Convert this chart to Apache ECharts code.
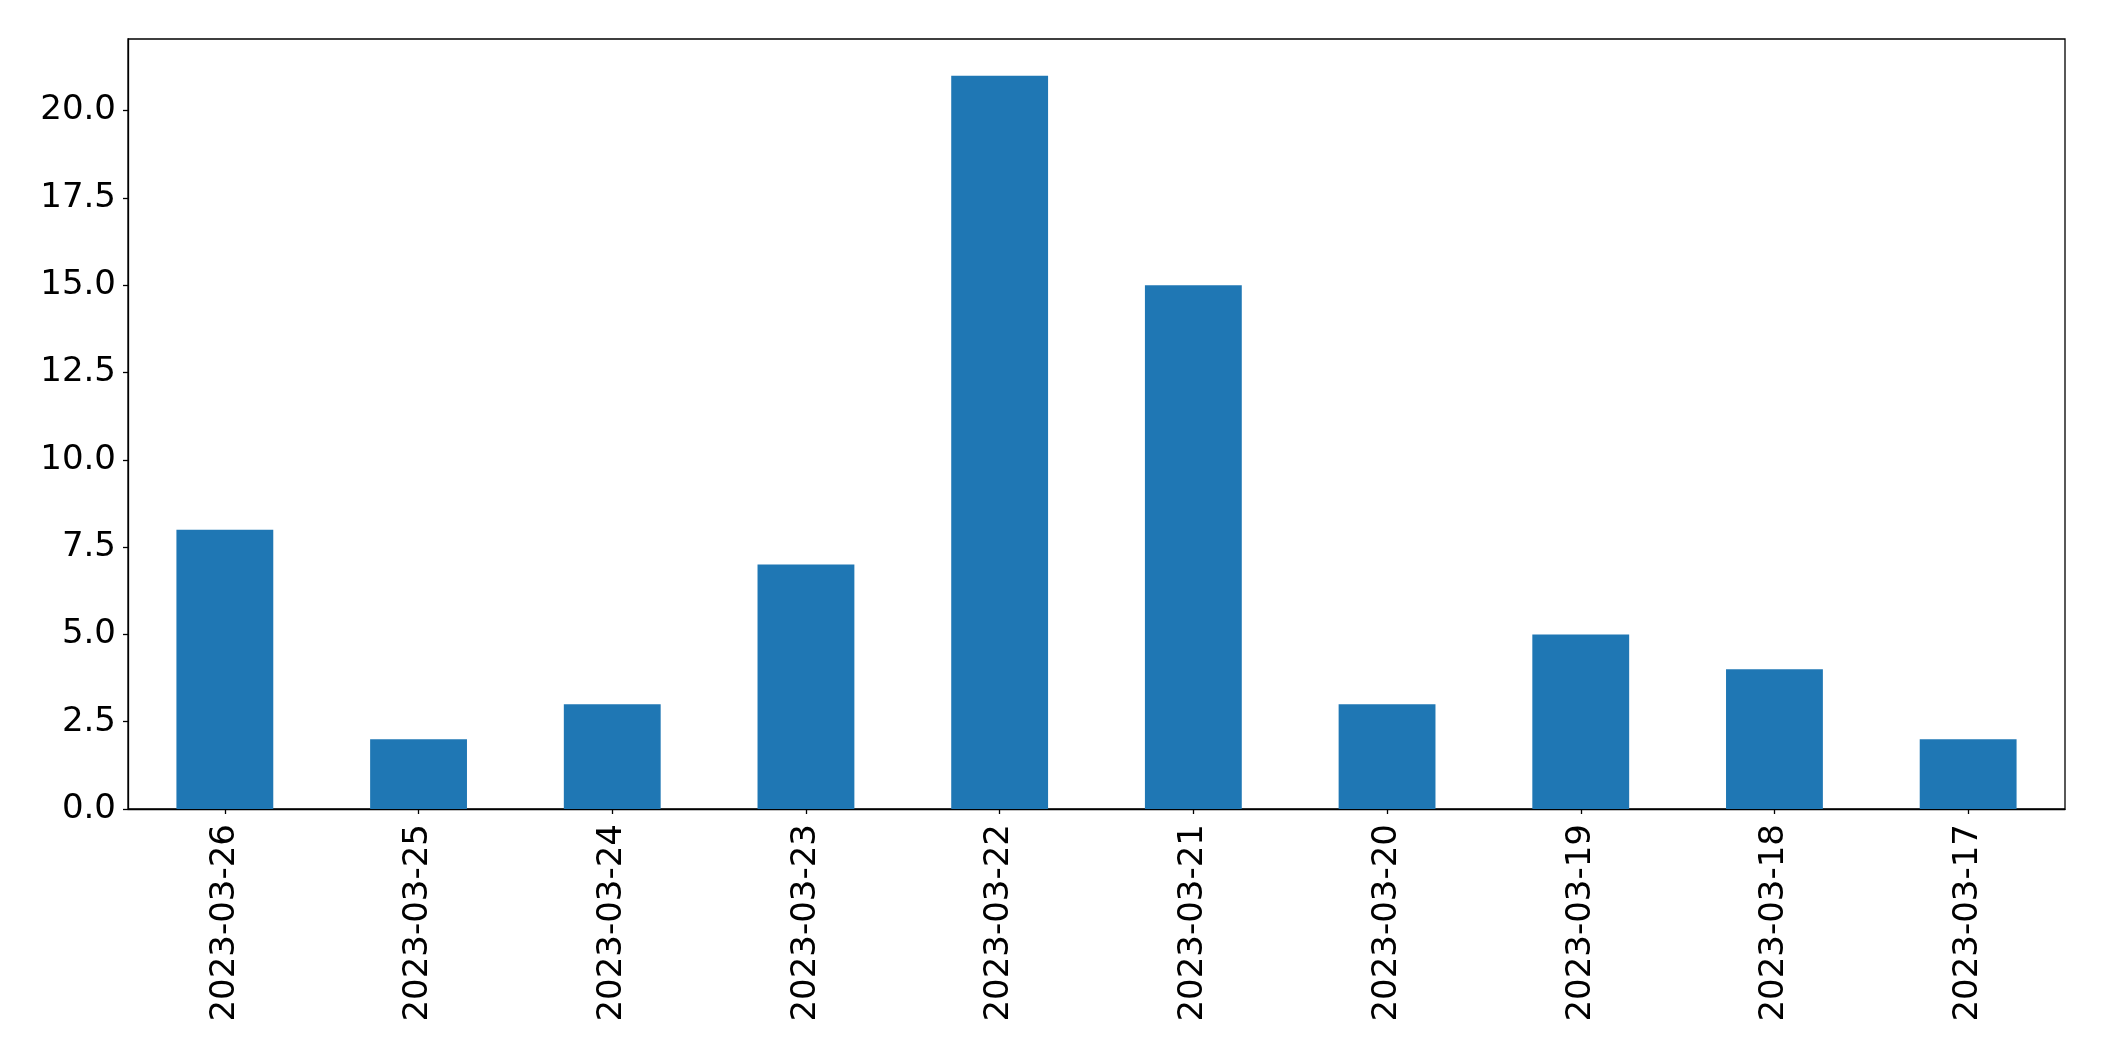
<!DOCTYPE html>
<html>
<head>
<meta charset="utf-8">
<script src="https://cdn.jsdelivr.net/npm/echarts@6/dist/echarts.min.js"></script>
<style>html,body{margin:0;padding:0;background:#fff;}#c{width:2104px;height:1061px;}</style>
</head>
<body>
<div id="c"></div>
<script>
const categories = ['2023-03-26','2023-03-25','2023-03-24','2023-03-23','2023-03-22','2023-03-21','2023-03-20','2023-03-19','2023-03-18','2023-03-17'];
const values = [8, 2, 3, 7, 21, 15, 3, 5, 4, 2];
const yMax = 22.05;
const yInterval = 2.5;

const chart = echarts.init(document.getElementById('c'), null, {renderer: 'canvas'});
const font = 'DejaVu Sans';
chart.setOption({
  animation: false,
  backgroundColor: '#fff',
  grid: {left: 128, right: 39, top: 39, bottom: 252, show: true, borderColor: '#000', borderWidth: 1.3, containLabel: false},
  xAxis: {
    type: 'category',
    data: categories,
    axisLine: {show: true, lineStyle: {color: '#000', width: 1.3}},
    axisTick: {show: true, alignWithLabel: true, length: 5, lineStyle: {color: '#000', width: 1.3}},
    axisLabel: {rotate: 90, margin: 15, color: '#000', fontFamily: font, fontSize: 34, interval: 0}
  },
  yAxis: {
    type: 'value',
    min: 0, max: yMax, interval: yInterval,
    splitLine: {show: false},
    axisLine: {show: true, lineStyle: {color: '#000', width: 1.3}},
    axisTick: {show: true, length: 5, lineStyle: {color: '#000', width: 1.3}},
    axisLabel: {margin: 12, color: '#000', fontFamily: font, fontSize: 34, showMaxLabel: false,
      formatter: v => (Math.abs(v / yInterval - Math.round(v / yInterval)) < 1e-6 ? v.toFixed(1) : '')}
  },
  series: [{
    type: 'bar',
    data: values,
    barWidth: '50%',
    itemStyle: {color: '#1f77b4'}
  }]
});
</script>
</body>
</html>
